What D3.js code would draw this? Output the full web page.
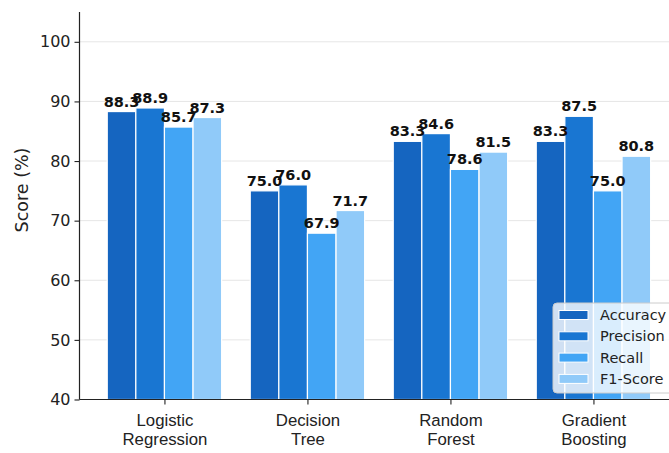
<!DOCTYPE html>
<html>
<head>
<meta charset="utf-8">
<script src="https://cdn.jsdelivr.net/npm/d3@7"></script>
<style>
  html, body { margin: 0; padding: 0; background: #fff; }
  svg { display: block; font-family: "DejaVu Sans", sans-serif; }
</style>
</head>
<body>
<svg id="chart" width="669" height="453"></svg>
<script>
// Model comparison data
const models = ["Logistic\nRegression", "Decision\nTree", "Random\nForest", "Gradient\nBoosting"];
const metrics = ["Accuracy", "Precision", "Recall", "F1-Score"];
const colors = ["#1565C0", "#1976D2", "#42A5F5", "#90CAF9"];
const accuracy  = [88.3, 75.0, 83.3, 83.3];
const precision = [88.9, 76.0, 84.6, 87.5];
const recall    = [85.7, 67.9, 78.6, 75.0];
const f1score   = [87.3, 71.7, 81.5, 80.8];
const yTicks = [40, 50, 60, 70, 80, 90, 100];

const seriesValues = [accuracy, precision, recall, f1score];

const svg = d3.select("#chart");
const x0 = 79.5, yTop = 12, yBottom = 399.5;

const x = d3.scaleLinear().domain([-0.594, 3.594]).range([x0, x0 + 4.188 * 143]);
const y = d3.scaleLinear().domain([40, 105]).range([yBottom, yTop]);
const barW = 0.2;

// horizontal grid
svg.append("g").selectAll("line").data(yTicks).join("line")
  .attr("x1", x0).attr("x2", 669)
  .attr("y1", d => y(d)).attr("y2", d => y(d))
  .attr("stroke", "#e6e6e6").attr("stroke-width", 1);

// bars
const bars = svg.append("g");
seriesValues.forEach((vals, j) => {
  const off = (j - 1.5) * barW;
  bars.append("g").selectAll("rect").data(vals).join("rect")
    .attr("x", (d, i) => x(i + off - barW / 2))
    .attr("width", x(barW) - x(0))
    .attr("y", d => y(d))
    .attr("height", d => yBottom - y(d))
    .attr("fill", colors[j])
    .attr("stroke", "#fff").attr("stroke-width", 1.2);
});

// value labels
seriesValues.forEach((vals, j) => {
  const off = (j - 1.5) * barW;
  svg.append("g").selectAll("text").data(vals).join("text")
    .attr("x", (d, i) => x(i + off))
    .attr("y", d => y(d) - 5)
    .attr("text-anchor", "middle")
    .attr("font-size", "14.5px").attr("font-weight", "bold")
    .attr("fill", "#111")
    .text(d => d.toFixed(1));
});

// y axis
const yAxis = d3.axisLeft(y).tickValues(yTicks).tickSize(5).tickPadding(4);
const gy = svg.append("g").attr("transform", `translate(${x0},0)`).call(yAxis);
gy.select(".domain").attr("d", `M0,${yTop}V${yBottom}`).attr("stroke", "#222").attr("stroke-width", 1.2);
gy.selectAll(".tick line").attr("stroke", "#222").attr("stroke-width", 1.1);
gy.selectAll(".tick text").attr("font-size", "16px").attr("fill", "#222")
  .attr("font-family", "DejaVu Sans, sans-serif");

// x axis
const xAxis = d3.axisBottom(x).tickValues(d3.range(models.length)).tickSize(5).tickFormat("");
const gx = svg.append("g").attr("transform", `translate(0,${yBottom})`).call(xAxis);
gx.select(".domain").attr("d", `M${x0},0H669`).attr("stroke", "#222").attr("stroke-width", 1.2);
gx.selectAll(".tick line").attr("stroke", "#222").attr("stroke-width", 1.1);
gx.selectAll(".tick").append("text")
  .attr("text-anchor", "middle").attr("fill", "#222").attr("font-size", "16.8px")
  .selectAll("tspan").data((d) => models[d].split("\n")).join("tspan")
  .attr("x", 0).attr("y", (d, k) => 26.5 + k * 19).text(d => d);

// y label
svg.append("text")
  .attr("transform", "translate(28,190) rotate(-90)")
  .attr("text-anchor", "middle").attr("font-size", "17.5px").attr("fill", "#222")
  .text("Score (%)");

// legend
const lg = svg.append("g").attr("transform", "translate(553,303)");
lg.append("rect").attr("x", 0).attr("y", 0).attr("width", 130).attr("height", 90)
  .attr("rx", 4).attr("fill", "#fff").attr("fill-opacity", 0.8)
  .attr("stroke", "#ccc").attr("stroke-width", 1);
metrics.forEach((m, j) => {
  const cy = 12 + j * 21.3;
  lg.append("rect").attr("x", 6).attr("y", cy - 4.5).attr("width", 29).attr("height", 9)
    .attr("fill", colors[j]).attr("stroke", "#fff").attr("stroke-width", 1);
  lg.append("text").attr("x", 47).attr("y", cy + 5).attr("font-size", "14.5px")
    .attr("fill", "#222").text(m);
});
</script>
</body>
</html>
